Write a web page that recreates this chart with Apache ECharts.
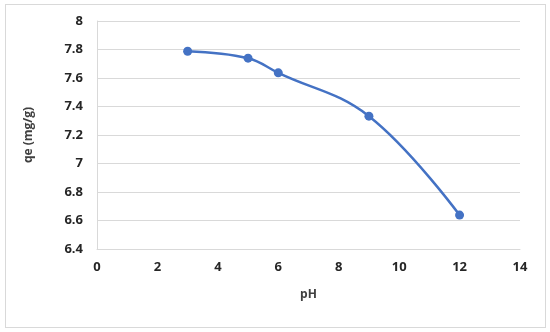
<!DOCTYPE html>
<html>
<head>
<meta charset="utf-8">
<script src="https://cdn.jsdelivr.net/npm/echarts@6/dist/echarts.min.js"></script>
<style>
html,body{margin:0;padding:0;background:#fff;}
#wrap{position:absolute;left:5px;top:4px;width:539px;height:322px;border:1px solid #d9d9d9;}
#c{position:absolute;left:0;top:0;width:550px;height:332px;}
</style>
</head>
<body>
<div id="wrap"></div>
<div id="c"></div>
<script>
const phValues = [3, 5, 6, 9, 12];
const qeValues = [7.788, 7.739, 7.636, 7.332, 6.638];
const xTicks = [0, 2, 4, 6, 8, 10, 12, 14];
const yTicks = [6.4, 6.6, 6.8, 7, 7.2, 7.4, 7.6, 7.8, 8];

const chart = echarts.init(document.getElementById('c'), null, {renderer: 'canvas'});
const font = '"Open Sans", "Liberation Sans", sans-serif';
chart.setOption({
  animation: false,
  grid: {left: 97, right: 30, top: 21, bottom: 83},
  xAxis: {
    type: 'value', min: xTicks[0], max: xTicks[xTicks.length-1], interval: 2,
    name: 'pH', nameLocation: 'middle', nameGap: 40,
    nameTextStyle: {fontFamily: font, fontWeight: 'bold', fontSize: 12, color: '#404040'},
    axisLine: {show: true, lineStyle: {color: '#d9d9d9', width: 1}},
    axisTick: {show: false},
    splitLine: {show: false},
    axisLabel: {fontFamily: font, fontWeight: 'bold', fontSize: 13, color: '#262626', margin: 12}
  },
  yAxis: {
    type: 'value', min: yTicks[0], max: yTicks[yTicks.length-1], interval: 0.2,
    name: 'qe (mg/g)', nameLocation: 'middle', nameGap: 62, nameRotate: 90,
    nameTextStyle: {fontFamily: font, fontWeight: 'bold', fontSize: 12, color: '#404040'},
    axisLine: {show: true, lineStyle: {color: '#d9d9d9', width: 1}},
    axisTick: {show: false},
    splitLine: {show: true, lineStyle: {color: '#d9d9d9', width: 1}},
    axisLabel: {fontFamily: font, fontWeight: 'bold', fontSize: 13, color: '#262626', margin: 14,
      formatter: v => String(Math.round(v*10)/10)}
  },
  series: [{
    type: 'line',
    data: phValues.map((x, i) => [x, qeValues[i]]),
    smooth: 0.4,
    symbol: 'circle', symbolSize: 9,
    lineStyle: {color: '#4472C4', width: 2.5},
    itemStyle: {color: '#4472C4'}
  }]
});
</script>
</body>
</html>
